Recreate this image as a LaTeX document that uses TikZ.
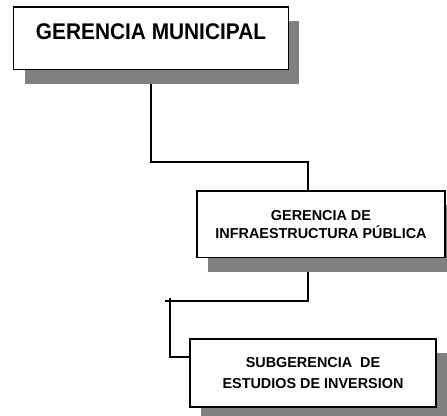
\documentclass[tikz,border=0pt]{standalone}
\usepackage{fontspec}
\setmainfont{Liberation Sans}
\newfontfamily\titlefont[FakeStretch=0.92]{Liberation Sans}
\usetikzlibrary{shadows,backgrounds}
\begin{document}
\begin{tikzpicture}[x=0.75pt,y=0.75pt,yscale=-1,xscale=1,
    unitbox/.style={draw=black,line width=1pt,fill=white,align=center,
        font=\fontsize{10.8}{13.5}\selectfont\bfseries,
        drop shadow={shadow xshift=8.25pt,shadow yshift=-10.5pt,opacity=1,fill=gray}},
    link/.style={line width=1pt}]
        \useasboundingbox (0,0) rectangle (447,416);
        \node [unitbox,minimum width=206pt,minimum height=47pt] (gm) at (151,38.5) {};
        \node [anchor=base,font=\titlefont\fontsize{17}{20}\selectfont\bfseries] (gmtitle) at (151,40) {GERENCIA MUNICIPAL};
        \node [unitbox,minimum width=186pt,minimum height=50pt] (gip) at (321,224.5) {GERENCIA DE\\INFRAESTRUCTURA PÚBLICA};
        \node [unitbox,minimum width=184.5pt,minimum height=51pt,font=\fontsize{10.8}{15.75}\selectfont\bfseries] (sei) at (313,373) {SUBGERENCIA\ \ DE\\ESTUDIOS DE INVERSION};

        \coordinate (c1) at (308,162);
        \coordinate (c2) at (165,301);
        \coordinate (c3) at (170,298);
        \coordinate (c4) at (170,357);
        \begin{scope}[on background layer]
        \draw [link] (gm.south) |- (c1) -- (c1 |- gip.north);
        \draw [link] (c1 |- gip.south) |- (c2);
        \draw [link] (c3) -- (c4) -- (c4 -| sei.west);
        \end{scope}
    \end{tikzpicture}
\end{document}
